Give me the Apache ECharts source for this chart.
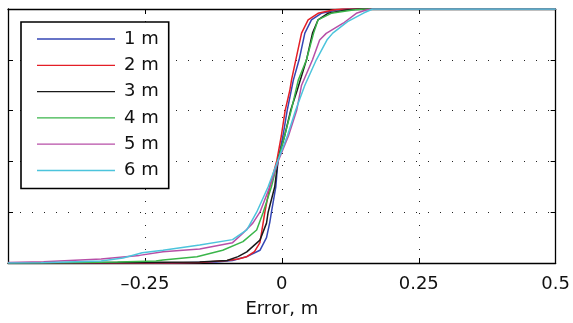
<!DOCTYPE html>
<html>
<head>
<meta charset="utf-8">
<script src="https://cdn.jsdelivr.net/npm/echarts@6/dist/echarts.min.js"></script>
<style>
html,body{margin:0;padding:0;background:#fff;}
#chart{width:573px;height:323px;}
</style>
</head>
<body>
<div id="chart"></div>
<script>
// ---- data ----
var seriesNames = ['1 m', '2 m', '3 m', '4 m', '5 m', '6 m'];
var seriesColors = ['#3446b4', '#e41e26', '#1a1a1a', '#3ab54a', '#b74fa7', '#4cc4dc'];
var tickValues = [-0.5, -0.25, 0, 0.25, 0.5];
var tickLabels = ['', '\u20130.25', '0', '0.25', '0.5'];
var xTitle = 'Error, m';

var cdf1m = [[-0.5,0],[-0.2,0],[-0.12,0.004],[-0.09,0.01],[-0.064,0.025],[-0.04,0.05],[-0.028,0.1],[-0.022,0.16],[-0.019,0.2],[-0.011,0.3],[-0.007,0.405],[0.002,0.5],[0.0097,0.6],[0.021,0.72],[0.0315,0.8],[0.042,0.905],[0.054,0.957],[0.072,0.983],[0.1,0.996],[0.12,1],[0.5,1]];
var cdf2m = [[-0.5,0],[-0.2,0],[-0.15,0.002],[-0.1,0.01],[-0.08,0.016],[-0.064,0.025],[-0.05,0.045],[-0.04,0.08],[-0.031,0.2],[-0.022,0.3],[-0.009,0.405],[-0.001,0.5],[0.006,0.6],[0.0146,0.68],[0.0176,0.72],[0.0255,0.8],[0.036,0.905],[0.048,0.957],[0.066,0.983],[0.093,0.996],[0.11,1],[0.5,1]];
var cdf3m = [[-0.5,0],[-0.3,0.002],[-0.15,0.004],[-0.1,0.01],[-0.08,0.025],[-0.064,0.044],[-0.04,0.09],[-0.028,0.157],[-0.025,0.2],[-0.013,0.3],[-0.007,0.405],[0.005,0.5],[0.016,0.6],[0.028,0.68],[0.045,0.8],[0.056,0.905],[0.066,0.957],[0.084,0.983],[0.118,0.996],[0.14,1],[0.5,1]];
var cdf4m = [[-0.5,0],[-0.4,0.001],[-0.3,0.004],[-0.23,0.008],[-0.217,0.012],[-0.155,0.025],[-0.108,0.05],[-0.071,0.084],[-0.046,0.13],[-0.034,0.2],[-0.019,0.3],[-0.007,0.405],[0.005,0.5],[0.017,0.6],[0.03,0.72],[0.045,0.8],[0.058,0.905],[0.066,0.957],[0.09,0.983],[0.13,0.996],[0.15,1],[0.5,1]];
var cdf5m = [[-0.5,0.002],[-0.435,0.005],[-0.33,0.016],[-0.26,0.03],[-0.217,0.044],[-0.15,0.055],[-0.09,0.08],[-0.071,0.117],[-0.053,0.157],[-0.04,0.2],[-0.022,0.3],[-0.006,0.405],[0.012,0.5],[0.027,0.6],[0.036,0.7],[0.056,0.8],[0.069,0.878],[0.081,0.904],[0.112,0.944],[0.136,0.983],[0.154,0.996],[0.164,1],[0.5,1]];
var cdf6m = [[-0.5,0],[-0.44,0.001],[-0.33,0.008],[-0.29,0.02],[-0.255,0.04],[-0.217,0.05],[-0.15,0.071],[-0.09,0.092],[-0.064,0.13],[-0.046,0.2],[-0.025,0.3],[-0.007,0.405],[0.01,0.5],[0.025,0.6],[0.042,0.7],[0.063,0.8],[0.083,0.88],[0.093,0.905],[0.12,0.95],[0.15,0.985],[0.166,1],[0.5,1]];
var allData = [cdf1m, cdf2m, cdf3m, cdf4m, cdf5m, cdf6m];

// ---- chart ----
var FONT = '"DejaVu Sans", "Liberation Sans", Arial, sans-serif';
var chart = echarts.init(document.getElementById('chart'), null, {renderer: 'canvas'});
var dotted = {color: '#222', width: 1, type: [1, 11]};
function labelFor(v) {
  for (var i = 0; i < tickValues.length; i++) {
    if (Math.abs(tickValues[i] - v) < 1e-9) return tickLabels[i];
  }
  return '';
}
var series = allData.map(function (d, i) {
  return {
    name: seriesNames[i],
    type: 'line',
    data: d,
    symbol: 'none',
    smooth: false,
    animation: false,
    xAxisIndex: 0,
    yAxisIndex: 0,
    lineStyle: {color: seriesColors[i], width: 1.5},
    itemStyle: {color: seriesColors[i]}
  };
});
var option = {
  backgroundColor: '#fff',
  animation: false,
  grid: {left: 8, right: 16, top: 9, bottom: 60, containLabel: false},
  legend: {
    orient: 'vertical',
    left: 21,
    top: 22,
    backgroundColor: '#fff',
    borderColor: '#000',
    borderWidth: 1.6,
    borderRadius: 0,
    padding: [7, 10, 8, 16],
    itemWidth: 78,
    itemHeight: 20,
    itemGap: 6.3,
    icon: 'path://M0,10 L78,10 L78,11.3 L0,11.3 Z',
    textStyle: {fontFamily: FONT, fontSize: 18, color: '#111', lineHeight: 20, padding: [0, 0, 0, 4]},
    data: seriesNames.map(function (n, i) { return {name: n, itemStyle: {color: seriesColors[i]}}; })
  },
  xAxis: [{
    type: 'value', min: -0.5, max: 0.5, interval: 0.25, position: 'bottom',
    name: xTitle, nameLocation: 'middle', nameGap: 37,
    nameTextStyle: {fontFamily: FONT, fontSize: 18, color: '#111'},
    axisLine: {show: true, onZero: false, lineStyle: {color: '#000', width: 1.3}},
    axisTick: {show: true, inside: true, length: 5, lineStyle: {color: '#000'}},
    axisLabel: {show: true, margin: 12, fontFamily: FONT, fontSize: 18, color: '#111', formatter: labelFor},
    splitLine: {show: true, lineStyle: dotted}
  }, {
    type: 'value', min: -0.5, max: 0.5, interval: 0.25, position: 'top',
    axisLine: {show: true, onZero: false, lineStyle: {color: '#000', width: 1.3}},
    axisTick: {show: true, inside: true, length: 5, lineStyle: {color: '#000'}},
    axisLabel: {show: false},
    splitLine: {show: false}
  }],
  yAxis: [{
    type: 'value', min: 0, max: 1, interval: 0.2, position: 'left',
    axisLine: {show: true, onZero: false, lineStyle: {color: '#000', width: 1.3}},
    axisTick: {show: true, inside: true, length: 5, lineStyle: {color: '#000'}},
    axisLabel: {show: false},
    splitLine: {show: true, lineStyle: dotted}
  }, {
    type: 'value', min: 0, max: 1, interval: 0.2, position: 'right',
    axisLine: {show: true, onZero: false, lineStyle: {color: '#000', width: 1.3}},
    axisTick: {show: true, inside: true, length: 5, lineStyle: {color: '#000'}},
    axisLabel: {show: false},
    splitLine: {show: false}
  }],
  series: series
};
chart.setOption(option);
</script>
</body>
</html>
